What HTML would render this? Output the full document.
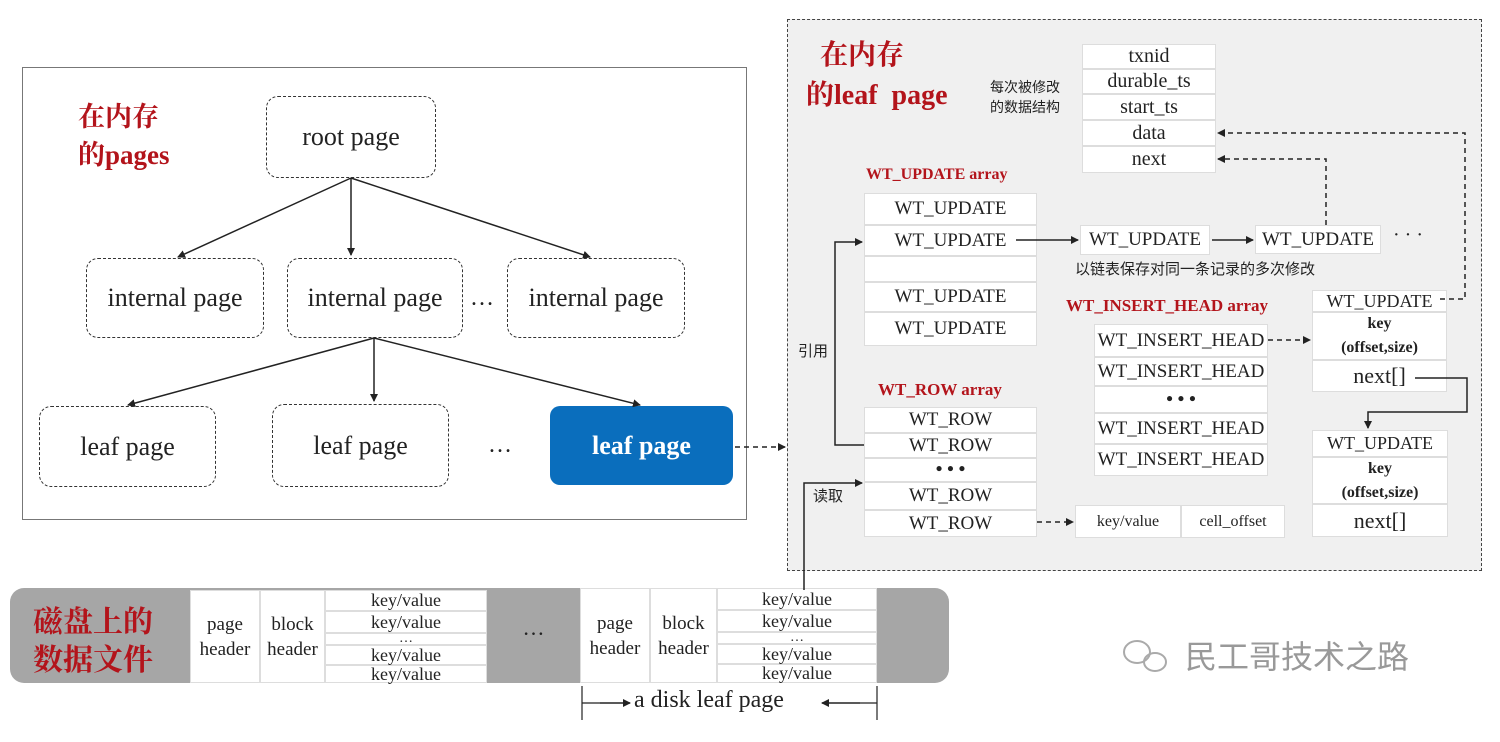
<!DOCTYPE html>
<html><head><meta charset="utf-8"><style>
body{margin:0;width:1500px;height:742px;background:#fff;position:relative;overflow:hidden;font-family:"Liberation Serif","Noto Serif CJK SC",serif;color:#222}
.a{position:absolute;box-sizing:border-box}
.c{display:flex;align-items:center;justify-content:center;text-align:center}
.dash{border:1.5px dashed #333;border-radius:12px;font-size:26px}
.cell{background:#fff;border:1px solid #ddd;font-size:19px}
.red{color:#b3141b;font-weight:bold}
.cn{font-family:"Noto Sans CJK SC",sans-serif}
</style></head><body>
<div class="a" style="left:22px;top:67px;width:725px;height:453px;border:1.5px solid #777"></div>
<div class="a red" style="left:78px;top:98px;font-size:27px;line-height:38px;font-family:'Liberation Serif','Noto Serif CJK SC',serif">在内存<br>的pages</div>
<div class="a c dash" style="left:266px;top:96px;width:170px;height:82px">root page</div>
<div class="a c dash" style="left:86px;top:258px;width:178px;height:80px">internal page</div>
<div class="a c dash" style="left:287px;top:258px;width:176px;height:80px">internal page</div>
<div class="a c" style="left:470px;top:285px;font-size:24px">…</div>
<div class="a c dash" style="left:507px;top:258px;width:178px;height:80px">internal page</div>
<div class="a c dash" style="left:39px;top:406px;width:177px;height:81px">leaf page</div>
<div class="a c dash" style="left:272px;top:404px;width:177px;height:83px">leaf page</div>
<div class="a c" style="left:488px;top:432px;font-size:24px">…</div>
<div class="a c" style="left:550px;top:406px;width:183px;height:79px;background:#0a6ebd;border-radius:10px;color:#fff;font-weight:bold;font-size:26px">leaf page</div>

<div class="a" style="left:787px;top:19px;width:695px;height:552px;border:1.5px dashed #444;background:#f0f0f0"></div>
<div class="a red" style="left:806px;top:36px;font-size:28px;line-height:40px">&nbsp;&nbsp;在内存<br>的leaf&nbsp; page</div>
<div class="a cn" style="left:990px;top:77px;font-size:14px;line-height:20px">每次被修改<br>的数据结构</div>
<div class="a c cell" style="left:1082px;top:44px;width:134px;height:25px;font-size:20px">txnid</div>
<div class="a c cell" style="left:1082px;top:69px;width:134px;height:25px;font-size:20px">durable_ts</div>
<div class="a c cell" style="left:1082px;top:94px;width:134px;height:26px;font-size:20px">start_ts</div>
<div class="a c cell" style="left:1082px;top:120px;width:134px;height:26px;font-size:20px">data</div>
<div class="a c cell" style="left:1082px;top:146px;width:134px;height:27px;font-size:20px">next</div>

<div class="a red" style="left:866px;top:166px;font-size:16px">WT_UPDATE array</div>
<div class="a c cell" style="left:864px;top:193px;width:173px;height:32px">WT_UPDATE</div>
<div class="a c cell" style="left:864px;top:225px;width:173px;height:31px">WT_UPDATE</div>
<div class="a c cell" style="left:864px;top:256px;width:173px;height:26px"></div>
<div class="a c cell" style="left:864px;top:282px;width:173px;height:30px">WT_UPDATE</div>
<div class="a c cell" style="left:864px;top:312px;width:173px;height:34px">WT_UPDATE</div>
<div class="a c cell" style="left:1080px;top:225px;width:130px;height:30px">WT_UPDATE</div>
<div class="a c cell" style="left:1255px;top:225px;width:126px;height:29px">WT_UPDATE</div>
<div class="a" style="left:1393px;top:224px;font-size:20px">· · ·</div>
<div class="a cn" style="left:1075px;top:258px;font-size:15px">以链表保存对同一条记录的多次修改</div>

<div class="a red" style="left:1066px;top:296px;font-size:17px">WT_INSERT_HEAD array</div>
<div class="a c cell" style="left:1094px;top:324px;width:174px;height:33px">WT_INSERT_HEAD</div>
<div class="a c cell" style="left:1094px;top:357px;width:174px;height:29px">WT_INSERT_HEAD</div>
<div class="a c cell" style="left:1094px;top:386px;width:174px;height:27px;font-weight:bold">• • •</div>
<div class="a c cell" style="left:1094px;top:413px;width:174px;height:31px">WT_INSERT_HEAD</div>
<div class="a c cell" style="left:1094px;top:444px;width:174px;height:32px">WT_INSERT_HEAD</div>

<div class="a c cell" style="left:1312px;top:290px;width:135px;height:22px;font-size:18px">WT_UPDATE</div>
<div class="a c cell" style="left:1312px;top:312px;width:135px;height:48px;font-size:16px;font-weight:bold;line-height:24px">key<br>(offset,size)</div>
<div class="a c cell" style="left:1312px;top:360px;width:135px;height:32px;font-size:22px">next[]</div>
<div class="a c cell" style="left:1312px;top:430px;width:136px;height:27px;font-size:18px">WT_UPDATE</div>
<div class="a c cell" style="left:1312px;top:457px;width:136px;height:47px;font-size:16px;font-weight:bold;line-height:24px">key<br>(offset,size)</div>
<div class="a c cell" style="left:1312px;top:504px;width:136px;height:33px;font-size:22px">next[]</div>

<div class="a red" style="left:878px;top:380px;font-size:17px">WT_ROW array</div>
<div class="a c cell" style="left:864px;top:407px;width:173px;height:26px">WT_ROW</div>
<div class="a c cell" style="left:864px;top:433px;width:173px;height:25px">WT_ROW</div>
<div class="a c cell" style="left:864px;top:458px;width:173px;height:24px;font-weight:bold">• • •</div>
<div class="a c cell" style="left:864px;top:482px;width:173px;height:28px">WT_ROW</div>
<div class="a c cell" style="left:864px;top:510px;width:173px;height:27px">WT_ROW</div>
<div class="a c cell" style="left:1075px;top:505px;width:106px;height:33px;font-size:16px">key/value</div>
<div class="a c cell" style="left:1181px;top:505px;width:104px;height:33px;font-size:16px">cell_offset</div>
<div class="a cn" style="left:798px;top:340px;font-size:15px">引用</div>
<div class="a cn" style="left:813px;top:485px;font-size:15px">读取</div>

<div class="a" style="left:10px;top:588px;width:939px;height:95px;background:#a6a6a6;border-radius:14px"></div>
<div class="a red" style="left:33px;top:600px;font-size:30px;line-height:38px;font-family:'Noto Serif CJK SC',serif">磁盘上的<br>数据文件</div>
<div class="a c cell" style="left:190px;top:590px;width:70px;height:93px;font-size:19px;line-height:25px">page<br>header</div>
<div class="a c cell" style="left:260px;top:590px;width:65px;height:93px;font-size:19px;line-height:25px">block<br>header</div>
<div class="a c cell" style="left:325px;top:590px;width:162px;height:21px;font-size:18px">key/value</div>
<div class="a c cell" style="left:325px;top:611px;width:162px;height:22px;font-size:18px">key/value</div>
<div class="a c cell" style="left:325px;top:633px;width:162px;height:12px;font-size:14px">…</div>
<div class="a c cell" style="left:325px;top:645px;width:162px;height:20px;font-size:18px">key/value</div>
<div class="a c cell" style="left:325px;top:665px;width:162px;height:18px;font-size:18px">key/value</div>
<div class="a c" style="left:487px;top:615px;width:93px;font-size:22px">…</div>
<div class="a c cell" style="left:580px;top:588px;width:70px;height:95px;font-size:19px;line-height:25px">page<br>header</div>
<div class="a c cell" style="left:650px;top:588px;width:67px;height:95px;font-size:19px;line-height:25px">block<br>header</div>
<div class="a c cell" style="left:717px;top:588px;width:160px;height:22px;font-size:18px">key/value</div>
<div class="a c cell" style="left:717px;top:610px;width:160px;height:22px;font-size:18px">key/value</div>
<div class="a c cell" style="left:717px;top:632px;width:160px;height:12px;font-size:14px">…</div>
<div class="a c cell" style="left:717px;top:644px;width:160px;height:20px;font-size:18px">key/value</div>
<div class="a c cell" style="left:717px;top:664px;width:160px;height:19px;font-size:18px">key/value</div>
<div class="a" style="left:634px;top:687px;font-size:24px">a disk leaf page</div>
<div class="a cn" style="left:1185px;top:632px;font-size:32px;color:#999">民工哥技术之路</div>

<svg class="a" style="left:0;top:0" width="1500" height="742">
<defs><marker id="m" markerWidth="8" markerHeight="8" refX="7" refY="4" orient="auto" markerUnits="userSpaceOnUse"><path d="M0,0L8,4L0,8z" fill="#222"/></marker></defs>
<g stroke="#222" stroke-width="1.5" fill="none" marker-end="url(#m)">
<line x1="351" y1="178" x2="178" y2="257"/><line x1="351" y1="178" x2="351" y2="255"/><line x1="351" y1="178" x2="590" y2="257"/>
<line x1="374" y1="338" x2="128" y2="405"/><line x1="374" y1="338" x2="374" y2="401"/><line x1="374" y1="338" x2="640" y2="405"/>
<line x1="735" y1="447" x2="785" y2="447" stroke-dasharray="5,4"/>
<line x1="1016" y1="240" x2="1078" y2="240"/><line x1="1212" y1="240" x2="1253" y2="240"/>
<polyline points="1326,225 1326,159 1218,159" stroke-dasharray="5,4"/>
<polyline points="1440,299 1465,299 1465,133 1218,133" stroke-dasharray="5,4"/>
<line x1="1268" y1="340" x2="1310" y2="340" stroke-dasharray="5,4"/>
<polyline points="1415,378 1467,378 1467,412 1368,412 1368,428"/>
<line x1="1037" y1="522" x2="1073" y2="522" stroke-dasharray="5,4"/>
<polyline points="864,445 835,445 835,242 862,242"/>
<polyline points="804,590 804,483 862,483"/>
<line x1="600" y1="703" x2="630" y2="703"/><line x1="860" y1="703" x2="822" y2="703"/>
</g>
<g stroke="#222" stroke-width="1.2"><line x1="582" y1="686" x2="582" y2="720"/><line x1="877" y1="686" x2="877" y2="720"/><line x1="582" y1="703" x2="600" y2="703"/><line x1="877" y1="703" x2="860" y2="703"/></g>
<g fill="none" stroke="#aaa" stroke-width="2"><ellipse cx="1137" cy="652" rx="13" ry="11"/><ellipse cx="1155" cy="662" rx="11" ry="9"/></g>
</svg>
</body></html>
